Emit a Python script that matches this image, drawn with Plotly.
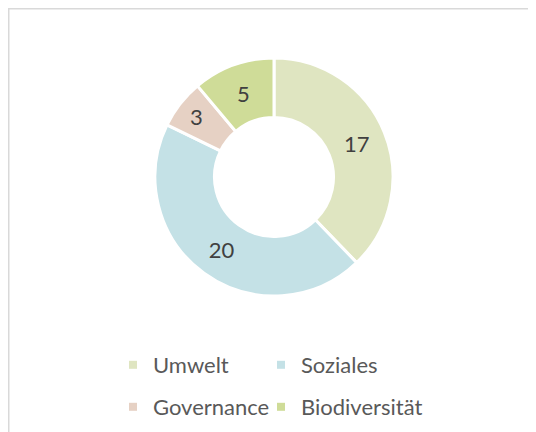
import plotly.graph_objects as go

categories = ["Umwelt", "Soziales", "Governance", "Biodiversität"]
values = [17, 20, 3, 5]
colors = ["#dfe5c1", "#c4e1e6", "#e6d1c4", "#cfdc98"]

W, H = 536, 432
cx, cy, r = 266, 169, 119

fig = go.Figure()
fig.add_trace(go.Pie(
    labels=categories,
    values=values,
    hole=0.5,
    sort=False,
    direction="clockwise",
    rotation=0,
    marker=dict(colors=colors, line=dict(color="white", width=3)),
    textinfo="value",
    textposition="inside",
    insidetextorientation="horizontal",
    textfont=dict(family="Lato", size=22, color="#404040"),
    domain=dict(x=[(cx - r) / W, (cx + r) / W], y=[1 - (cy + r) / H, 1 - (cy - r) / H]),
    hoverinfo="label+value",
    showlegend=False,
))

# legend entries: one small legend per entry, arranged in 2 rows x 2 columns
legend_ids = ["legend", "legend2", "legend3", "legend4"]
for name, col, lid in zip(categories, colors, legend_ids):
    fig.add_trace(go.Scatter(
        x=[None], y=[None], mode="markers", name=name,
        marker=dict(symbol="square", size=8, color=col),
        legend=lid,
        hoverinfo="skip",
    ))

leg_common = dict(
    orientation="h",
    xanchor="left",
    yanchor="middle",
    font=dict(family="Lato", size=22, color="#595959"),
    itemclick=False, itemdoubleclick=False,
    bgcolor="rgba(0,0,0,0)",
)
col_x = [105, 253]
row_y = [357, 399]
legend_layout = {}
for i, lid in enumerate(legend_ids):
    legend_layout[lid] = dict(x=col_x[i % 2] / W, y=1 - row_y[i // 2] / H, **leg_common)

fig.update_layout(
    width=W, height=H,
    margin=dict(l=0, r=0, t=0, b=0),
    paper_bgcolor="white",
    plot_bgcolor="white",
    font=dict(family="Lato", color="#595959"),
    xaxis=dict(visible=False),
    yaxis=dict(visible=False),
    shapes=[dict(
        type="rect", xref="paper", yref="paper",
        x0=0.75 / W, x1=1.2, y0=-0.2, y1=1 - 0.75 / H,
        line=dict(color="#d9d9d9", width=1.5),
        fillcolor="rgba(0,0,0,0)",
        layer="below",
    )],
    **legend_layout,
)

fig.write_html("out.html")
